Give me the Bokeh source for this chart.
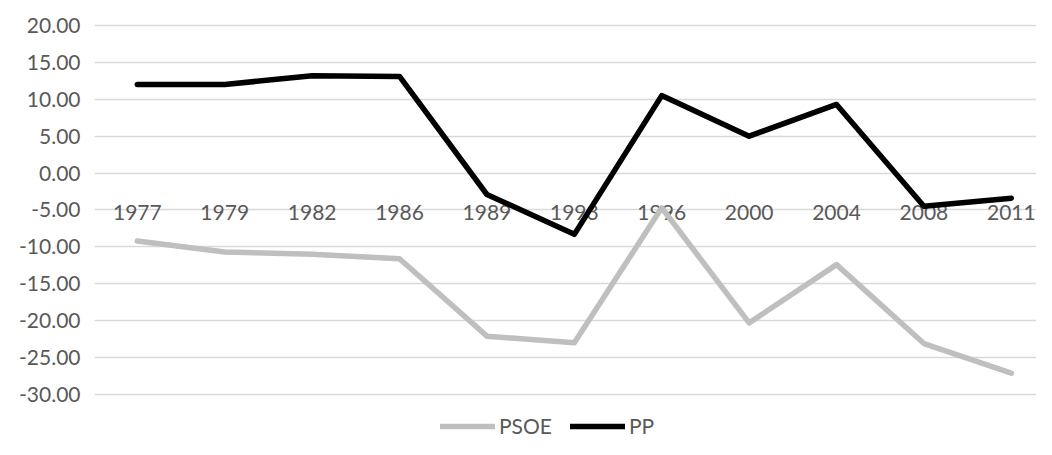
from bokeh.plotting import figure
from bokeh.models import FixedTicker, Legend, LegendItem, ColumnDataSource, NumeralTickFormatter
from bokeh.core.properties import value
from bokeh.embed import file_html
from bokeh.resources import INLINE

years = ["1977", "1979", "1982", "1986", "1989", "1993", "1996", "2000", "2004", "2008", "2011"]
psoe = [-9.2, -10.7, -11.0, -11.6, -22.1, -23.0, -4.7, -20.3, -12.4, -23.1, -27.1]
pp = [12.0, 12.0, 13.2, 13.1, -2.9, -8.3, 10.5, 5.0, 9.3, -4.5, -3.4]
y_ticks = [-30, -25, -20, -15, -10, -5, 0, 5, 10, 15, 20]

xs = list(range(len(years)))
FONT = "Lato"
TEXT_COLOR = "#595959"

p = figure(width=1036, height=439, output_backend="svg", toolbar_location=None,
           x_range=(-0.49, 10.288), y_range=(-36.1, 20.27),
           x_axis_type=None, min_border_left=94, min_border_right=0,
           min_border_top=23, min_border_bottom=0)
p.outline_line_color = None
p.background_fill_color = "white"
p.border_fill_color = "white"

# y axis
yax = p.yaxis[0]
yax.ticker = FixedTicker(ticks=y_ticks)
yax.formatter = NumeralTickFormatter(format="0.00")
yax.axis_line_color = None
yax.major_tick_line_color = None
yax.minor_tick_line_color = None
yax.major_tick_out = 0
yax.major_tick_in = 0
yax.major_label_standoff = 14
yax.major_label_text_font = FONT
yax.major_label_text_font_size = "21px"
yax.major_label_text_color = TEXT_COLOR

p.ygrid.ticker = FixedTicker(ticks=y_ticks)
p.ygrid.grid_line_color = "#d9d9d9"
p.ygrid.grid_line_width = 1.3
p.xgrid.visible = False

src = ColumnDataSource(dict(x=xs, year=years, psoe=psoe, pp=pp, zero=[0] * len(years)))

# category labels along the zero line
p.text(x="x", y="zero", text="year", source=src, text_align="center", text_baseline="top",
       y_offset=32, text_font=value(FONT), text_font_size="21px", text_color=TEXT_COLOR)

r_psoe = p.line("x", "psoe", source=src, line_color="#bfbfbf", line_width=5.5,
                line_join="round", line_cap="round")
r_pp = p.line("x", "pp", source=src, line_color="#000000", line_width=5.5,
              line_join="round", line_cap="round")

legend = Legend(items=[LegendItem(label="PSOE", renderers=[r_psoe]),
                       LegendItem(label="PP", renderers=[r_pp])],
                orientation="horizontal", location=(346, 1),
                glyph_width=55, glyph_height=20, label_standoff=4, spacing=18,
                padding=0, margin=0, border_line_color=None, background_fill_alpha=0,
                label_text_font=FONT, label_text_font_size="21px", label_text_color=TEXT_COLOR)
p.add_layout(legend)

open("out.html", "w").write(file_html(p, INLINE))
